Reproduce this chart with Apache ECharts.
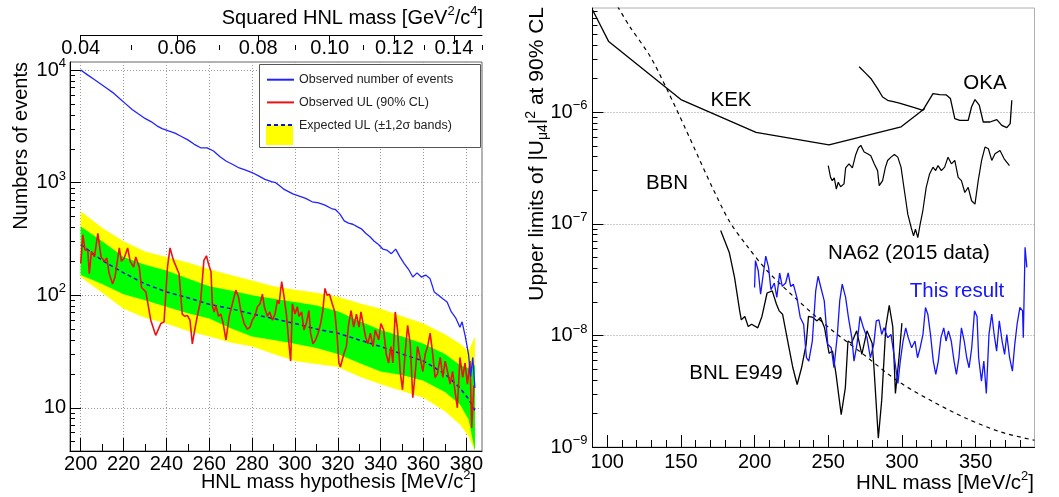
<!DOCTYPE html>
<html>
<head>
<meta charset="utf-8">
<script src="https://cdn.jsdelivr.net/npm/echarts@6/dist/echarts.min.js"></script>
<style>html,body{margin:0;padding:0;background:#fff}#c{width:1059px;height:497px}</style>
</head>
<body>
<div id="c"></div>
<script>
// ---------------- LEFT PANEL DATA ----------------
const observedEvents = [[200,10000],[203,9120],[206,8320],[209,7590],[212,6920],[215,6310],[218,5620],[221,5010],[224,4470],[227,4070],[230,3720],[233,3470],[236,3160],[238,3020],[241,2880],[244,2750],[247,2570],[250,2400],[253,2190],[256,2040],[259,2040],[262,1910],[265,1700],[268,1550],[271,1450],[274,1350],[277,1290],[280,1230],[283,1150],[286,1070],[289,1020],[291,1000],[293,933],[295,871],[297,832],[299,794],[302,759],[305,724],[308,676],[311,661],[314,631],[317,589],[319,575],[321,525],[323,457],[325,437],[327,427],[329,407],[331,389],[333,355],[335,331],[337,302],[339,282],[341,257],[343,251],[345,234],[347,257],[349,219],[351,191],[353,170],[355,145],[357,158],[359,145],[361,151],[363,141],[365,107],[367,100],[369,93],[371,87],[373,71],[375,63],[377,52],[378,58],[379.5,43],[381,30],[382,19],[383,28],[384,15]];

const observedUL = [[200,192],[201,344],[202,253],[203.3,251],[204,155],[205,245],[206.4,219],[208,355],[209.5,219],[211,200],[212.2,214],[213.3,155],[214.9,126],[216,145],[218,263],[219,200],[220.3,214],[221.9,263],[223.1,200],[224.7,178],[225.7,219],[227.3,178],[228.4,117],[230.4,107],[232.7,60],[235,44],[237.4,56],[238.9,58],[240.5,178],[241.7,263],[243.3,204],[245.9,155],[247.4,68],[248.5,65],[249.8,66],[251,60],[252.1,37],[253.2,49],[254.4,65],[256,90],[257.5,204],[258.7,224],[259.6,191],[260.8,162],[261.5,79],[262.3,71],[263.1,81],[264.3,65],[265.4,68],[266.5,56],[267.8,40],[269.3,65],[270.8,84],[272.4,111],[273.6,97],[274.7,73],[276.3,56],[277.8,50],[279,52],[280.1,60],[281.4,66],[282.5,79],[283.7,84],[284.8,102],[285.7,79],[287.1,65],[288.2,71],[289.5,60],[290.7,68],[291.8,90],[292.6,84],[293.8,132],[294.9,97],[296,68],[297.2,37],[298,26],[298.8,84],[300,68],[301.1,79],[301.9,65],[303.1,71],[304.2,49],[305.3,56],[306.5,73],[307.3,46],[308.4,37],[309.6,40],[310.8,46],[312,56],[313,73],[314,115],[315,100],[316.1,102],[317.4,84],[318.6,71],[319.7,43],[320.5,25],[321.2,23],[322.8,30],[324,35],[325.1,56],[326.2,73],[327.4,52],[328.7,68],[329.9,52],[330.8,71],[331.8,56],[332.9,43],[334,37],[335.2,46],[336.4,35],[337.5,49],[339.1,40],[340.1,56],[341.4,49],[342.6,30],[343.7,25],[344.8,35],[345.7,25],[346.8,71],[347.9,49],[349.1,21],[350.2,14.5],[351.5,32],[352.6,54],[353.8,37],[355,12.3],[356.1,20],[357.2,35],[358.4,28],[359.7,21],[360.8,30],[361.9,35],[363.1,46],[364.3,30],[365.4,18.6],[366.5,20],[367.8,28],[369,18.6],[370.1,26],[371.2,21],[372.4,16.2],[373.6,21],[374.7,14.1],[375.8,10],[377,28],[378.3,18.6],[379.4,25],[380.5,16.2],[381.7,26],[382.5,6.6],[383.5,15.8]];

const bandMass   = [200,210,220,230,240,250,260,270,280,290,300,310,320,330,340,350,360,370,377,381,384];
const bandMinus2 = [145,105,76,63,56,48,43,38,35,30,26,24.5,23,19,16.2,14.1,12.3,9.3,7.1,5.6,4.0];
const bandMinus1 = [151,126,102,90,79,69,62,51,43,40,37,34,30,25,21,19.5,17.4,13.8,10.7,7.9,4.1];
const bandMedian = [282,204,158,126,107,95,83,76,68,62,56,50,46,40,35,30,26,20,15,12,9.5];
const bandPlus1  = [407,302,219,186,166,141,120,110,100,93,87,81,72,59,49,43,37,30,24,22.4,24];
const bandPlus2  = [556,398,302,245,219,195,170,151,135,120,112,105,97,85,76,65,56,45,37,32,43];

const leftMassLabels = [200,220,240,260,280,300,320,340,360,380];
const leftMassMinor  = [210,230,250,270,290,310,330,350,370];
const squaredLabels  = [0.04,0.06,0.08,0.10,0.12,0.14];
const squaredMinor   = [0.05,0.07,0.09,0.11,0.13,0.15];
const countDecades   = [10,100,1000,10000];
const countMinor     = [5,6,7,8,9,20,30,40,50,60,70,80,90,200,300,400,500,600,700,800,900,2000,3000,4000,5000,6000,7000,8000,9000];

// ---------------- RIGHT PANEL DATA ----------------
const kekLimit = [[90,8.3e-6],[101,4.3e-6],[150,1.3e-6],[201,6.6e-7],[250.5,5.1e-7],[299.5,7.4e-7],[315.5,1.08e-6]];
const okaLimit = [[271,2.56e-6],[275.5,2.23e-6],[278.9,2.01e-6],[283.5,1.63e-6],[286.9,1.37e-6],[290.3,1.28e-6],[294.9,1.24e-6],[298.3,1.21e-6],[302.8,1.16e-6],[308.5,1.10e-6],[314.2,1.04e-6],[317.7,1.24e-6],[321.1,1.47e-6],[325.6,1.44e-6],[330.2,1.43e-6],[332.9,1.33e-6],[335.9,8.77e-7],[339.3,8.47e-7],[345,8.47e-7],[347.3,1.12e-6],[349.6,1.30e-6],[352.5,1.16e-6],[355.2,8.18e-7],[359.8,8.18e-7],[364.4,8.59e-7],[367.8,7.64e-7],[371.2,7.28e-7],[373.5,7.91e-7],[374.6,1.28e-6]];
const na62Limit = [[250,3.33e-7],[251.6,2.61e-7],[252.7,2.44e-7],[254.1,2.58e-7],[255.5,2.05e-7],[256.8,2.36e-7],[258.4,2.15e-7],[260.7,2.28e-7],[261.8,3.17e-7],[264.1,3.45e-7],[266.4,3.17e-7],[268.7,4.19e-7],[270.5,4.81e-7],[272.1,5.05e-7],[274.4,4.40e-7],[276.7,4.25e-7],[278.9,4.07e-7],[281.2,3.45e-7],[283.5,3.00e-7],[284.6,2.20e-7],[286.9,2.44e-7],[288.7,3.17e-7],[290.3,3.70e-7],[292.6,3.96e-7],[294.9,4.19e-7],[297.2,3.96e-7],[299.4,3.22e-7],[301.7,1.98e-7],[304,1.22e-7],[306.3,9.27e-8],[307.9,7.80e-8],[309.2,8.95e-8],[310.8,7.53e-8],[312.4,9.93e-8],[314.2,1.31e-7],[316.5,2.12e-7],[318.8,2.80e-7],[321.1,3.22e-7],[322.9,3.00e-7],[324.5,3.33e-7],[326.8,3.00e-7],[329,3.22e-7],[331.3,3.96e-7],[333.6,3.45e-7],[335.9,3.70e-7],[338.2,2.61e-7],[340.4,2.44e-7],[342.7,1.91e-7],[345,2.12e-7],[347.3,1.61e-7],[349.6,1.50e-7],[351.8,2.44e-7],[354.1,3.70e-7],[356.4,4.88e-7],[358.7,4.71e-7],[361,3.70e-7],[363.2,4.25e-7],[366.6,4.55e-7],[369.4,3.83e-7],[373,3.33e-7]];
const bbnLimit = [[107,8.9e-6],[115.2,5.89e-6],[129.2,3.16e-6],[140.8,1.58e-6],[152.5,7.41e-7],[161.8,3.98e-7],[171.2,2.14e-7],[183,1.05e-7],[195,6.31e-8],[208.5,3.80e-8],[227.2,2.19e-8],[250.6,1.17e-8],[273.9,6.76e-9],[297.3,3.89e-9],[320.6,2.57e-9],[343.9,1.80e-9],[367.3,1.36e-9],[390,1.15e-9]];
const bnlLimit = [[177,8.71e-8],[182.9,5.50e-8],[186.4,3.31e-8],[189.9,1.66e-8],[191,1.38e-8],[193.4,1.48e-8],[195.7,1.20e-8],[198,1.26e-8],[202.2,1.17e-8],[205,1.48e-8],[208.5,2.40e-8],[212,2.51e-8],[214.8,1.91e-8],[216.7,1.66e-8],[219,1.55e-8],[222.5,8.91e-9],[226,5.13e-9],[228.9,3.63e-9],[231.9,5.13e-9],[235,8.32e-9],[236.6,1.48e-8],[239.6,1.45e-8],[242.4,1.35e-8],[244.7,1.45e-8],[247.5,1.17e-8],[250.6,6.92e-9],[252.9,7.24e-9],[255.3,4.47e-9],[258.8,1.95e-9],[261.6,3.39e-9],[263.4,8.91e-9],[265.8,8.51e-9],[269.3,1.10e-8],[272.8,6.76e-9],[276.3,1.10e-8],[279.8,8.51e-9],[281,5.25e-9],[284,1.20e-9],[286.3,2.63e-9],[289.1,1.20e-8],[291.4,1.86e-8],[293.8,1.20e-8],[295.6,3.02e-9],[297.9,6.03e-9],[300,1.29e-8]];
const thisResult = [[200,2.69e-8],[200.6,4.68e-8],[202.5,3.80e-8],[204.1,2.34e-8],[205.7,3.39e-8],[207.6,5.13e-8],[209.5,4.07e-8],[211.1,2.57e-8],[213.4,2.95e-8],[215.1,2.19e-8],[217,3.63e-8],[218.8,2.75e-8],[221.1,2.95e-8],[222.8,3.63e-8],[224.5,2.75e-8],[226.3,2.88e-8],[228.7,2.19e-8],[231,1.45e-8],[233.3,1.26e-8],[235.2,6.31e-9],[236.8,5.89e-9],[239.2,8.91e-9],[241.5,2.51e-8],[243.1,3.39e-8],[245,2.69e-8],[247.3,2.04e-8],[249.7,8.32e-9],[252,7.76e-9],[253.9,5.13e-9],[256.2,1.02e-8],[257.8,2.04e-8],[259.5,2.88e-8],[261.8,2.19e-8],[263.7,1.45e-8],[266,9.55e-9],[267.5,5.89e-9],[269.5,8.32e-9],[271.6,1.48e-8],[273.9,1.17e-8],[276.3,9.55e-9],[278.6,6.31e-9],[280.9,8.32e-9],[282.6,1.35e-8],[284.4,1.38e-8],[286.3,1.02e-8],[287.9,1.17e-8],[290.3,9.55e-9],[292.6,1.02e-8],[294.9,6.31e-9],[297.3,3.72e-9],[298.9,5.89e-9],[300.8,8.91e-9],[302.6,1.17e-8],[304.3,9.55e-9],[306.6,7.76e-9],[308.9,8.91e-9],[310.6,6.31e-9],[312.4,7.76e-9],[314.3,1.02e-8],[316,1.78e-8],[317.6,1.55e-8],[319.4,1.02e-8],[321.3,5.89e-9],[323,4.47e-9],[324.7,5.89e-9],[326.5,9.55e-9],[328.4,1.17e-8],[330,8.91e-9],[331.6,1.10e-8],[333.5,8.91e-9],[335.4,5.89e-9],[337,4.47e-9],[338.7,6.31e-9],[340.4,1.17e-8],[342.3,8.91e-9],[344,6.31e-9],[345.6,5.13e-9],[347.4,7.76e-9],[349.3,1.66e-8],[351,1.48e-8],[352.1,6.31e-9],[354,3.89e-9],[355.6,5.89e-9],[357.3,3.02e-9],[359.1,1.02e-8],[361,1.55e-8],[362.6,1.02e-8],[364.3,7.24e-9],[366.1,1.35e-8],[368,8.91e-9],[369.7,6.76e-9],[371.2,1.02e-8],[373.1,6.31e-9],[375,4.79e-9],[376.6,8.32e-9],[378.2,1.26e-8],[380.1,1.78e-8],[381.9,1.66e-8],[382.4,9.55e-9],[383.6,6.17e-8],[384.8,4.07e-8]];

const rightMassLabels = [100,150,200,250,300,350];
const rightMassMinor  = [110,120,130,140,160,170,180,190,210,220,230,240,260,270,280,290,310,320,330,340,360,370,380];
const limitDecades = [1e-9,1e-8,1e-7,1e-6];
const limitMinor   = [2e-9,3e-9,4e-9,5e-9,6e-9,7e-9,8e-9,9e-9,2e-8,3e-8,4e-8,5e-8,6e-8,7e-8,8e-8,9e-8,2e-7,3e-7,4e-7,5e-7,6e-7,7e-7,8e-7,9e-7,2e-6,3e-6,4e-6,5e-6,6e-6,7e-6,8e-6];

// ---------------- CHART ----------------
const FONT = '"Liberation Sans", Arial, Helvetica, sans-serif';
const chart = echarts.init(document.getElementById('c'), null, {renderer: 'canvas'});

function powLabel(v) {
  const e = Math.round(Math.log10(v));
  if (e === 1) return '{b|10}';
  return '{b|10}{s|' + (e < 0 ? '\u2212' + (-e) : String(e)) + '}';
}
const richPow = {
  b: {fontSize: 20, fontFamily: FONT, color: '#000', lineHeight: 26},
  s: {fontSize: 13, fontFamily: FONT, color: '#000', lineHeight: 13, verticalAlign: 'top'}
};
const sqMass = (s) => Math.round(Math.sqrt(s) * 1e6) / 1e3;

const L = {min: 195, max: 387.3};
const LY = {min: 4.13, max: 11800};
const R = {min: 90, max: 390};
const RY = {min: 1e-9, max: 8.6e-6};
const gridLine = {show: true, lineStyle: {color: '#9a9a9a', type: [1, 2], width: 1}};
const blackLine = {show: true, onZero: false, lineStyle: {color: '#000', width: 1}};

// band polygon drawn through the axes' own scales
function bandSeries(name, upper, lower, color) {
  return {
    type: 'custom', name: name, xAxisIndex: 0, yAxisIndex: 0, silent: true, z: 1,
    data: [[bandMass[0], bandMedian[0]]],
    renderItem: function (params, api) {
      const pts = [];
      for (let i = 0; i < bandMass.length; i++) pts.push(api.coord([bandMass[i], upper[i]]));
      for (let i = bandMass.length - 1; i >= 0; i--) pts.push(api.coord([bandMass[i], lower[i]]));
      const cs = params.coordSys;
      return {type: 'polygon', shape: {points: echarts.graphic.clipPointsByRect(pts, {x: cs.x, y: cs.y, width: cs.width, height: cs.height})},
              style: {fill: color, stroke: null}};
    }
  };
}

const option = {
  backgroundColor: '#fff',
  animation: false,
  textStyle: {fontFamily: FONT},
  grid: [
    {left: 70, top: 62, width: 412, height: 389, show: true, borderColor: '#666', borderWidth: 1, outerBoundsMode: 'none'},
    {left: 592.5, top: 8, width: 442, height: 439, show: true, borderColor: '#b0b0b0', borderWidth: 1, outerBoundsMode: 'none'},
    {left: 80.7, top: 35, width: 401.3, height: 10, show: false, outerBoundsMode: 'none'}
  ],
  xAxis: [
    {gridIndex: 0, type: 'value', position: 'bottom', min: L.min, max: L.max, splitNumber: 10,
     axisLine: blackLine,
     axisTick: {show: true, inside: true, length: 13, customValues: leftMassLabels, lineStyle: {color: '#000'}},
     axisLabel: {customValues: leftMassLabels, fontSize: 20, color: '#000', margin: 3, fontFamily: FONT},
     splitLine: gridLine},
    {gridIndex: 0, type: 'value', position: 'bottom', min: L.min, max: L.max,
     axisLine: {show: false}, axisLabel: {show: false}, splitLine: {show: false},
     axisTick: {show: true, inside: true, length: 7, customValues: leftMassMinor, lineStyle: {color: '#000'}}},
    {gridIndex: 2, type: 'value', position: 'top', min: 200, max: L.max,
     axisLine: blackLine,
     axisTick: {show: true, inside: true, length: 9, customValues: squaredLabels.map(sqMass), lineStyle: {color: '#000'}},
     axisLabel: {inside: true, margin: 3, fontSize: 20, color: '#000', fontFamily: FONT,
                 customValues: squaredLabels.map(sqMass),
                 formatter: (v) => Math.pow(v / 1000, 2).toFixed(2)},
     splitLine: {show: false}},
    {gridIndex: 2, type: 'value', position: 'top', min: 200, max: L.max,
     axisLine: {show: false}, axisLabel: {show: false}, splitLine: {show: false},
     axisTick: {show: true, inside: true, length: 5, customValues: squaredMinor.map(sqMass), lineStyle: {color: '#000'}}},
    {gridIndex: 1, type: 'value', position: 'bottom', min: R.min, max: R.max,
     axisLine: blackLine,
     axisTick: {show: true, inside: true, length: 12, customValues: rightMassLabels, lineStyle: {color: '#000'}},
     axisLabel: {customValues: rightMassLabels, fontSize: 20, color: '#000', margin: 5, fontFamily: FONT},
     splitLine: {show: false}},
    {gridIndex: 1, type: 'value', position: 'bottom', min: R.min, max: R.max,
     axisLine: {show: false}, axisLabel: {show: false}, splitLine: {show: false},
     axisTick: {show: true, inside: true, length: 7, customValues: rightMassMinor, lineStyle: {color: '#000'}}}
  ],
  yAxis: [
    {gridIndex: 0, type: 'log', logBase: 10, position: 'left', min: LY.min, max: LY.max,
     axisLine: blackLine,
     axisTick: {show: true, inside: true, length: 11, customValues: countDecades, lineStyle: {color: '#000'}},
     axisLabel: {customValues: countDecades, formatter: powLabel, rich: richPow, margin: 4},
     splitLine: gridLine},
    {gridIndex: 0, type: 'log', logBase: 10, position: 'left', min: LY.min, max: LY.max,
     axisLine: {show: false}, axisLabel: {show: false}, splitLine: {show: false},
     axisTick: {show: true, inside: true, length: 5, customValues: countMinor, lineStyle: {color: '#000'}}},
    {gridIndex: 1, type: 'log', logBase: 10, position: 'left', min: RY.min, max: RY.max,
     axisLine: blackLine,
     axisTick: {show: true, inside: true, length: 11, customValues: limitDecades, lineStyle: {color: '#000'}},
     axisLabel: {customValues: limitDecades, formatter: powLabel, rich: richPow, margin: 5},
     splitLine: gridLine},
    {gridIndex: 1, type: 'log', logBase: 10, position: 'left', min: RY.min, max: RY.max,
     axisLine: {show: false}, axisLabel: {show: false}, splitLine: {show: false},
     axisTick: {show: true, inside: true, length: 5, customValues: limitMinor, lineStyle: {color: '#000'}}},
    {gridIndex: 2, type: 'value', show: false}
  ],
  legend: {
    data: [
      {name: 'Observed number of events', itemStyle: {opacity: 0}},
      {name: 'Observed UL (90% CL)', itemStyle: {opacity: 0}},
      {name: 'Expected UL (\u00b11,2\u03c3 bands)', itemStyle: {opacity: 0}}
    ],
    orient: 'vertical', left: 266, top: 71.7, itemWidth: 27, itemHeight: 20, itemGap: 6.7, padding: 0,
    textStyle: {fontFamily: FONT, fontSize: 12.5, color: '#222'},
    selectedMode: false, z: 10
  },
  series: [
    bandSeries('Expected UL \u00b12\u03c3 band', bandPlus2, bandMinus2, '#ffff00'),
    bandSeries('Expected UL \u00b11\u03c3 band', bandPlus1, bandMinus1, '#00ff00'),
    {type: 'line', name: 'Expected UL (\u00b11,2\u03c3 bands)', xAxisIndex: 0, yAxisIndex: 0, symbol: 'none',
     lineStyle: {color: '#1010e0', width: 1.5, type: [4, 3]}, itemStyle: {color: '#1010e0'}, data: bandMass.map((m, i) => [m, bandMedian[i]]), z: 3},
    {type: 'line', name: 'Observed UL (90% CL)', xAxisIndex: 0, yAxisIndex: 0, symbol: 'none',
     lineStyle: {color: '#ee1111', width: 1.6}, itemStyle: {color: '#ee1111'}, data: observedUL, z: 4},
    {type: 'line', name: 'Observed number of events', xAxisIndex: 0, yAxisIndex: 0, symbol: 'none',
     lineStyle: {color: '#2222ff', width: 1.3}, itemStyle: {color: '#2222ff'}, data: observedEvents, z: 5},

    {type: 'line', name: 'KEK', xAxisIndex: 4, yAxisIndex: 2, symbol: 'none', lineStyle: {color: '#000', width: 1.3}, data: kekLimit, z: 3},
    {type: 'line', name: 'OKA', xAxisIndex: 4, yAxisIndex: 2, symbol: 'none', lineStyle: {color: '#000', width: 1.3}, data: okaLimit, z: 3},
    {type: 'line', name: 'NA62 (2015 data)', xAxisIndex: 4, yAxisIndex: 2, symbol: 'none', lineStyle: {color: '#000', width: 1.2}, data: na62Limit, z: 3},
    {type: 'line', name: 'BBN', xAxisIndex: 4, yAxisIndex: 2, symbol: 'none', smooth: 0.3, lineStyle: {color: '#000', width: 1.2, type: [4, 4]}, data: bbnLimit, z: 3},
    {type: 'line', name: 'BNL E949', xAxisIndex: 4, yAxisIndex: 2, symbol: 'none', lineStyle: {color: '#000', width: 1.3}, data: bnlLimit, z: 3},
    {type: 'line', name: 'This result', xAxisIndex: 4, yAxisIndex: 2, symbol: 'none', lineStyle: {color: '#1414ff', width: 1.3}, data: thisResult, z: 4}
  ],
  graphic: [
    {type: 'rect', shape: {x: 259.5, y: 64.5, width: 221, height: 83}, style: {fill: '#fff', stroke: '#555', lineWidth: 1}, z: 5, silent: true},
    {type: 'rect', shape: {x: 266, y: 125, width: 27, height: 20}, style: {fill: '#ffff00'}, z: 6, silent: true},
    {type: 'text', x: 21, y: 62, rotation: Math.PI / 2, z: 5, silent: true,
     style: {text: 'Numbers of events', font: '20px ' + FONT, fill: '#000', align: 'right', verticalAlign: 'middle'}},
    {type: 'text', x: 537, y: 7, rotation: Math.PI / 2, z: 5, silent: true,
     style: {text: '{a|Upper limits of |U}{u|\u03bc4}{a||}{p|2}{a| at 90% CL}', align: 'right', verticalAlign: 'middle',
             rich: {a: {fontSize: 21, fontFamily: FONT, fill: '#000', lineHeight: 26},
                    u: {fontSize: 14, fontFamily: FONT, fill: '#000', lineHeight: 14, verticalAlign: 'bottom'},
                    p: {fontSize: 14, fontFamily: FONT, fill: '#000', lineHeight: 14, verticalAlign: 'top'}}}},
    {type: 'text', x: 476, y: 482, z: 5, silent: true,
     style: {text: '{a|HNL mass hypothesis [MeV/c}{p|2}{a|]}', align: 'right', verticalAlign: 'middle',
             rich: {a: {fontSize: 20, fontFamily: FONT, fill: '#000', lineHeight: 26},
                    p: {fontSize: 13, fontFamily: FONT, fill: '#000', lineHeight: 13, verticalAlign: 'top'}}}},
    {type: 'text', x: 1034, y: 483, z: 5, silent: true,
     style: {text: '{a|HNL mass [MeV/c}{p|2}{a|]}', align: 'right', verticalAlign: 'middle',
             rich: {a: {fontSize: 20.5, fontFamily: FONT, fill: '#000', lineHeight: 26},
                    p: {fontSize: 13, fontFamily: FONT, fill: '#000', lineHeight: 13, verticalAlign: 'top'}}}},
    {type: 'text', x: 483, y: 18, z: 5, silent: true,
     style: {text: '{a|Squared HNL mass [GeV}{p|2}{a|/c}{p|4}{a|]}', align: 'right', verticalAlign: 'middle',
             rich: {a: {fontSize: 20, fontFamily: FONT, fill: '#000', lineHeight: 26},
                    p: {fontSize: 13, fontFamily: FONT, fill: '#000', lineHeight: 13, verticalAlign: 'top'}}}},
    {type: 'text', x: 731, y: 100, z: 5, silent: true, style: {text: 'KEK', font: '20.5px ' + FONT, fill: '#000', align: 'center', verticalAlign: 'middle'}},
    {type: 'text', x: 985, y: 83, z: 5, silent: true, style: {text: 'OKA', font: '20.5px ' + FONT, fill: '#000', align: 'center', verticalAlign: 'middle'}},
    {type: 'text', x: 667, y: 183, z: 5, silent: true, style: {text: 'BBN', font: '20.5px ' + FONT, fill: '#000', align: 'center', verticalAlign: 'middle'}},
    {type: 'text', x: 909, y: 253, z: 5, silent: true, style: {text: 'NA62 (2015 data)', font: '20.5px ' + FONT, fill: '#000', align: 'center', verticalAlign: 'middle'}},
    {type: 'text', x: 957, y: 291, z: 5, silent: true, style: {text: 'This result', font: '20.5px ' + FONT, fill: '#1414ff', align: 'center', verticalAlign: 'middle'}},
    {type: 'text', x: 736, y: 373, z: 5, silent: true, style: {text: 'BNL E949', font: '20.5px ' + FONT, fill: '#000', align: 'center', verticalAlign: 'middle'}}
  ]
};
chart.setOption(option);
</script>
</body>
</html>
